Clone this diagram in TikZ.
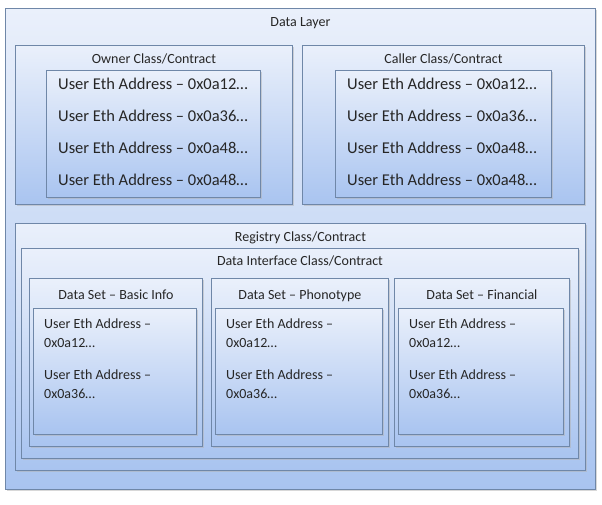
\documentclass[tikz,border=0pt]{standalone}
\usepackage{fontspec}
\setmainfont{Carlito}
\usetikzlibrary{positioning,shadows}

\definecolor{edgeblue}{HTML}{6F87A8}
\definecolor{topblue}{HTML}{EAF0FB}
\definecolor{botblue}{HTML}{A9C4F0}

\begin{document}
\begin{tikzpicture}[x=1pt,y=-1pt,
  layer/.style={draw=edgeblue,line width=0.9pt,top color=topblue,bottom color=botblue,
    drop shadow={shadow xshift=1.2pt,shadow yshift=-1.2pt,fill=black!30},
    anchor=north west,inner sep=0pt},
  title/.style={font=\fontsize{14}{19}\selectfont,text=black!85,inner sep=0pt},
  addr/.style={title,anchor=west,align=left},
  bigaddr/.style={addr,font=\fontsize{16.5}{20}\selectfont}]
\useasboundingbox (0,0) rectangle (602,505);

% outer layer
\node[layer,minimum width=590,minimum height=481] (data) at (5,8) {};
\node[title,below=9pt of data.north] (dataT) {Data Layer};

% owner and caller
\node[layer,minimum width=277,minimum height=159] (own) at (15,45) {};
\node[title,below=9pt of own.north] (ownT) {Owner Class/Contract};
\node[layer,minimum width=214,minimum height=127] (ownL) at (46,70) {};
\node[layer,minimum width=282,minimum height=159] (cal) at (302,45) {};
\node[title,below=9pt of cal.north] (calT) {Caller Class/Contract};
\node[layer,minimum width=216,minimum height=127] (calL) at (335,70) {};
\foreach \a [count=\i] in {12,36,48,48} {
  \node[bigaddr] (own\i) at (58,52+32*\i) {User Eth Address – 0x0a\a…};
  \node[bigaddr] (cal\i) at (347,52+32*\i) {User Eth Address – 0x0a\a…};
}

% registry
\node[layer,minimum width=570,minimum height=247] (reg) at (15,223) {};
\node[title,below=9pt of reg.north] (regT) {Registry Class/Contract};
\node[layer,minimum width=557,minimum height=210] (dif) at (21,248) {};
\node[title,below=8pt of dif.north] (difT) {Data Interface Class/Contract};

% data sets
\foreach \n/\x/\w/\t in {basic/29/173/Basic Info,pheno/211/177/Phonotype,fin/394/175/Financial} {
  \node[layer,minimum width=\w,minimum height=168] (\n) at (\x,278) {};
  \node[title,below=12pt of \n.north] (\n T) {Data Set – \t};
  \node[layer,minimum width=\w-10,minimum height=126] (\n L) at (\x+4,308) {};
  \node[addr] (\n1) at (\x+15,333) {User Eth Address –\\0x0a12…};
  \node[addr] (\n2) at (\x+15,384) {User Eth Address –\\0x0a36…};
}
\end{tikzpicture}
\end{document}
